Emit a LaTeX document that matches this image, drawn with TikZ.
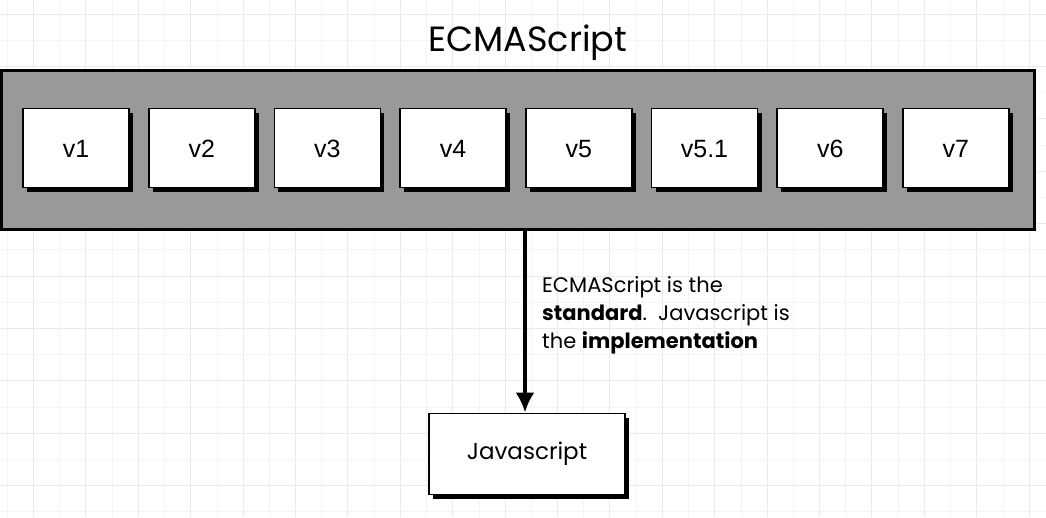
\documentclass[tikz,border=0pt]{standalone}
\usepackage{fontspec}
\setmainfont{Poppins}
\newfontfamily\arialfont{Liberation Sans}
\usetikzlibrary{%
  arrows.meta,%
  calc,%
  positioning%
}
\definecolor{gridmajor}{HTML}{EAEAEA}
\definecolor{gridminor}{HTML}{F4F4F4}
\definecolor{panelgray}{HTML}{999999}
\tikzset{>=latex,
  shadowed/.style={preaction={fill=black,transform canvas={shift={(4pt,-4pt)}}}},
  vbox/.style={draw=black,line width=1.6pt,fill=white,shadowed,minimum width=106pt,
    minimum height=79pt,text height=18pt,text depth=0pt,
    font=\arialfont\fontsize{25}{25}\selectfont},
  jsbox/.style={draw=black,line width=1.8pt,fill=white,shadowed,minimum width=196pt,
    minimum height=81pt,font=\fontsize{23}{23}\selectfont},
  panel/.style={draw=black,line width=2.6pt,fill=panelgray,minimum width=1033pt,
    minimum height=159pt}
}

\begin{document}
\begin{tikzpicture}[x=1pt,y=-1pt]
      \useasboundingbox[fill=white] (0,0) rectangle (1046,517);
      % grid
      \foreach \k in {0,...,20} {
        \draw[gridminor,line width=0.8pt] ({7.3+52.4*\k},0) -- ++(0,517);
        \draw[gridmajor,line width=1pt] ({33.5+52.4*\k},0) -- ++(0,517);
      }
      \foreach \k in {0,...,10} {
        \draw[gridminor,line width=0.8pt] (0,{40.2+52.4*\k}) -- ++(1046,0);
        \draw[gridmajor,line width=1pt] (0,{14+52.4*\k}) -- ++(1046,0);
      }

      \node[panel] (ecma) at (518,150) {};
      \node[font=\fontsize{35}{35}\selectfont] (title) at (528,43) {ECMAScript};
      \foreach \lbl [count=\i] in {v1,v2,v3,v4,v5,v5.1,v6,v7}
        \node[vbox] (v\i) at ({76+125.7*(\i-1)},148) {\lbl};

      \node[jsbox] (js) at (527,454) {Javascript};
      \coordinate (top) at (525,230);
      \draw[line width=4pt,-{Latex[length=20pt,width=19pt]}] (top) -- (top |- js.north);

      \node[anchor=north west,align=left,inner sep=0pt,
        font=\fontsize{21}{28}\selectfont] (note) at (542,276)
        {ECMAScript is the\\ \textbf{standard}.\ \ Javascript is\\ the \textbf{implementation}};
    \end{tikzpicture}
\end{document}
